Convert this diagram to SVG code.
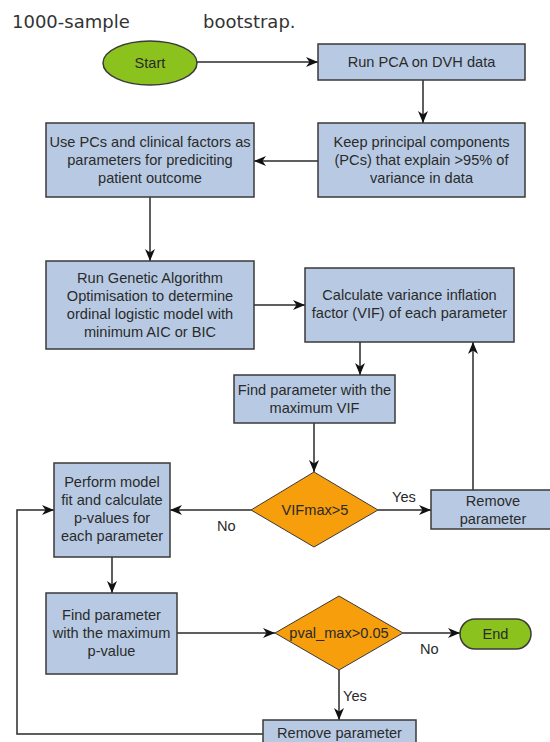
<svg xmlns="http://www.w3.org/2000/svg" width="550" height="742" viewBox="0 0 550 742">
<style>
.box{fill:#b8cae3;stroke:#3a3a3a;stroke-width:1.5}
.dia{fill:#f69e0c;stroke:#3a3a3a;stroke-width:1}
.term{fill:#8cc21e;stroke:#3a3a3a;stroke-width:1.5}
.t{font-family:"Liberation Sans",Arial,sans-serif;font-size:14.6px;fill:#2a2a2a;text-anchor:middle}
.lbl{font-family:"Liberation Sans",Arial,sans-serif;font-size:14.6px;fill:#2a2a2a}
.title{font-family:"DejaVu Sans",sans-serif;font-size:18px;fill:#333}
.c{fill:none;stroke:#2a2a2a;stroke-width:1.5}
.ca{fill:none;stroke:#2a2a2a;stroke-width:1.5;marker-end:url(#ah)}
</style>
<defs>
<marker id="ah" markerUnits="userSpaceOnUse" markerWidth="14" markerHeight="12" refX="12" refY="5" orient="auto">
<path d="M0,0 L12,5 L0,10 L3.5,5 z" fill="#111"/>
</marker>
</defs>
<rect width="550" height="742" fill="#fff"/>
<text class="title" x="12" y="28">1000-sample</text>
<text class="title" x="203" y="28">bootstrap.</text>

<g id="connectors">
<path class="ca" d="M197,62 H318"/>
<path class="ca" d="M423,80 V123"/>
<path class="ca" d="M318,161 H254"/>
<path class="ca" d="M150,197 V261"/>
<path class="ca" d="M254,305 H305"/>
<path class="ca" d="M360,342 V375"/>
<path class="ca" d="M314,423 V472"/>
<path class="ca" d="M251,510 H170"/>
<path class="ca" d="M378,510 H431"/>
<path class="ca" d="M473,490 V342"/>
<path class="ca" d="M112,557 V593"/>
<path class="ca" d="M177,633 H275"/>
<path class="ca" d="M403,633 H460"/>
<path class="ca" d="M339,670 V720"/>
<path class="ca" d="M263,734 H17 V510 H54"/>
<text class="lbl" x="392" y="502">Yes</text>
<text class="lbl" x="217" y="531">No</text>
<text class="lbl" x="420" y="654">No</text>
<text class="lbl" x="343" y="701">Yes</text>
</g>

<g id="start">
<ellipse class="term" cx="150" cy="63" rx="47" ry="22"/>
<text class="t" x="150" y="68">Start</text>
</g>

<g id="pca">
<rect class="box" x="318" y="44" width="207" height="36"/>
<text class="t" x="421.5" y="67">Run PCA on DVH data</text>
</g>

<g id="keep">
<rect class="box" x="318" y="123" width="207" height="74"/>
<text class="t" x="421.5" y="147">Keep principal components</text>
<text class="t" x="421.5" y="165">(PCs) that explain &gt;95% of</text>
<text class="t" x="421.5" y="183">variance in data</text>
</g>

<g id="use">
<rect class="box" x="46" y="123" width="208" height="74"/>
<text class="t" x="150" y="147">Use PCs and clinical factors as</text>
<text class="t" x="150" y="165">parameters for prediciting</text>
<text class="t" x="150" y="183">patient outcome</text>
</g>

<g id="ga">
<rect class="box" x="46" y="261" width="208" height="88"/>
<text class="t" x="150" y="283">Run Genetic Algorithm</text>
<text class="t" x="150" y="301">Optimisation to determine</text>
<text class="t" x="150" y="319">ordinal logistic model with</text>
<text class="t" x="150" y="337">minimum AIC or BIC</text>
</g>

<g id="calc">
<rect class="box" x="305" y="268" width="209" height="74"/>
<text class="t" x="409.5" y="300">Calculate variance inflation</text>
<text class="t" x="409.5" y="318">factor (VIF) of each parameter</text>
</g>

<g id="findvif">
<rect class="box" x="234" y="375" width="161" height="48"/>
<text class="t" x="314.5" y="395">Find parameter with the</text>
<text class="t" x="314.5" y="413">maximum VIF</text>
</g>

<g id="vifdecision">
<polygon class="dia" points="314,472 378,510 314,547 251,510"/>
<text class="t" x="315" y="515">VIFmax&gt;5</text>
</g>

<g id="remove1">
<rect class="box" x="431" y="490" width="125" height="39"/>
<text class="t" x="493" y="506">Remove</text>
<text class="t" x="493" y="524">parameter</text>
</g>

<g id="perform">
<rect class="box" x="54" y="463" width="116" height="94"/>
<text class="t" x="112" y="487">Perform model</text>
<text class="t" x="112" y="505">fit and calculate</text>
<text class="t" x="112" y="523">p-values for</text>
<text class="t" x="112" y="541">each parameter</text>
</g>

<g id="findp">
<rect class="box" x="46" y="593" width="131" height="81"/>
<text class="t" x="111.5" y="620">Find parameter</text>
<text class="t" x="111.5" y="638">with the maximum</text>
<text class="t" x="111.5" y="656">p-value</text>
</g>

<g id="pdecision">
<polygon class="dia" points="339,596 403,633 339,670 275,633"/>
<text class="t" x="339" y="638">pval_max&gt;0.05</text>
</g>

<g id="end">
<rect class="term" x="460" y="619" width="71" height="30" rx="15"/>
<text class="t" x="495.5" y="639">End</text>
</g>

<g id="remove2">
<rect class="box" x="263" y="720" width="153" height="30"/>
<text class="t" x="339.5" y="738">Remove parameter</text>
</g>
</svg>
